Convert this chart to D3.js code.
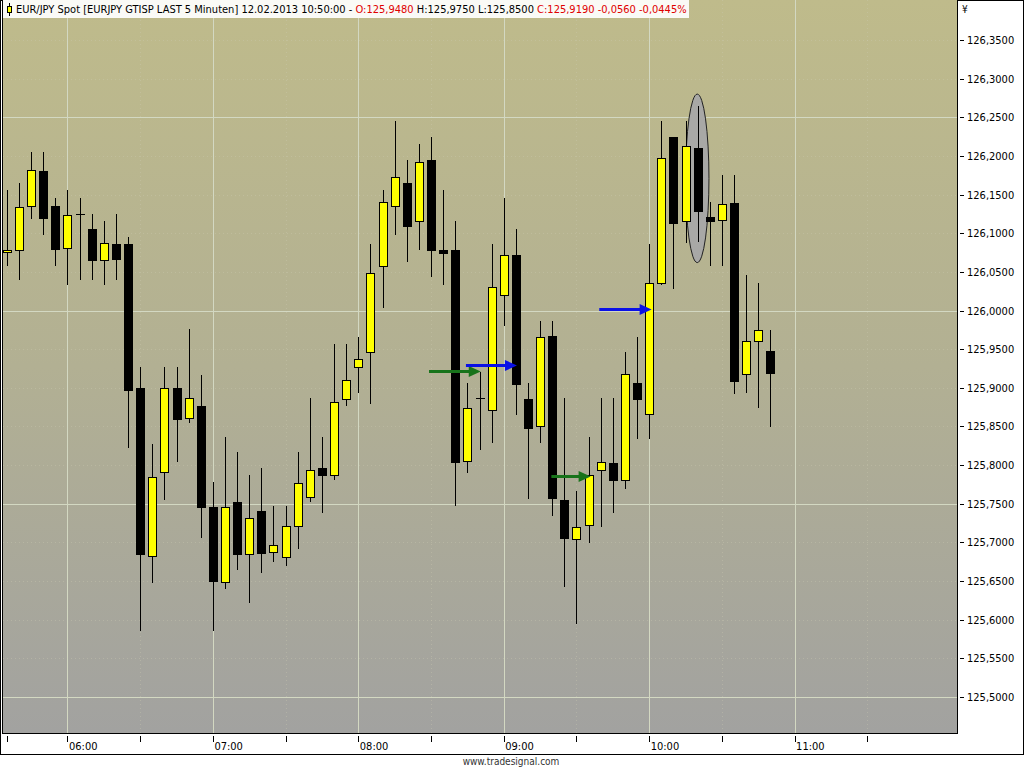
<!DOCTYPE html>
<html><head><meta charset="utf-8">
<script src="https://cdn.jsdelivr.net/npm/d3@7"></script>
<style>body{margin:0;background:#fff;} svg{display:block;}</style>
</head><body>
<svg id="c" width="1024" height="768"></svg>
<script>
// ---- data ----
const times = ["05:35","05:40","05:45","05:50","05:55","06:00","06:05","06:10","06:15","06:20","06:25","06:30",
"06:35","06:40","06:45","06:50","06:55","07:00","07:05","07:10","07:15","07:20","07:25","07:30",
"07:35","07:40","07:45","07:50","07:55","08:00","08:05","08:10","08:15","08:20","08:25","08:30",
"08:35","08:40","08:45","08:50","08:55","09:00","09:05","09:10","09:15","09:20","09:25","09:30",
"09:35","09:40","09:45","09:50","09:55","10:00","10:05","10:10","10:15","10:20","10:25","10:30",
"10:35","10:40","10:45","10:50"];
const opens = [126.0757,126.0779,126.1349,126.1801,126.1353,126.0805,126.1245,126.1055,126.0650,126.0861,126.0861,125.8998,
125.6828,125.7907,125.8998,125.8606,125.8765,125.7455,125.6484,125.7519,125.6847,125.7407,125.6872,125.6808,
125.7209,125.7584,125.7959,125.7869,125.8852,125.9266,125.9464,126.0580,126.1349,126.1646,126.1154,126.1948,
126.0779,126.0783,125.8050,125.8869,125.8710,126.0197,126.0715,125.8856,125.8503,125.9667,125.7549,125.7041,
125.7222,125.7933,125.8028,125.7804,125.9063,125.8662,126.0350,126.2245,126.1154,126.2099,126.1206,126.1168,
126.1387,125.9175,125.9606,125.9480];
const highs = [126.1560,126.1650,126.2047,126.2047,126.1452,126.1560,126.1452,126.1249,126.1158,126.1249,126.0955,125.9274,
125.8274,125.9274,125.9274,125.9761,125.9166,125.7778,125.8360,125.8174,125.7873,125.7967,125.7475,125.7475,
125.8174,125.8865,125.8360,125.9563,125.9567,125.9654,126.0861,126.1560,126.2452,126.1948,126.2155,126.2241,
126.1560,126.1158,125.9059,125.9205,126.0861,126.1452,126.1055,125.9059,125.9865,125.9865,125.8865,125.7666,
125.8368,125.8865,125.8865,125.9464,125.9654,126.0857,126.2452,126.2250,126.2452,126.2646,126.1408,126.1754,
126.1754,126.0460,126.0360,125.9750];
const lows = [126.0589,126.0404,126.1201,126.0990,126.0589,126.0343,126.0404,126.0404,126.0343,126.0404,125.8231,125.5867,
125.6484,125.7566,125.8057,125.8562,125.7066,125.5867,125.6415,125.6656,125.6226,125.6614,125.6764,125.6708,
125.6932,125.7540,125.7398,125.7817,125.8778,125.8950,125.8800,126.0050,126.0990,126.0645,126.0800,126.0451,
126.0347,125.7484,125.7915,125.8209,125.8296,125.9809,125.8658,125.7571,125.8299,125.7359,125.6437,125.5962,
125.7010,125.7213,125.7394,125.7708,125.8355,125.8351,126.0345,126.0296,126.0891,126.0904,126.0589,126.0589,
125.8929,125.8950,125.8756,125.8500];
const closes = [126.0777,126.1336,126.1814,126.1201,126.0800,126.1232,126.1245,126.0658,126.0870,126.0671,125.8976,125.6847,
125.7843,125.8998,125.8601,125.8865,125.7455,125.6505,125.7455,125.6847,125.7312,125.6859,125.6963,125.7209,
125.7765,125.7937,125.7876,125.8821,125.9101,125.9369,126.0482,126.1400,126.1724,126.1098,126.1926,126.0787,
126.0748,125.8045,125.8735,125.8869,126.0301,126.0715,125.9054,125.8477,125.9662,125.7569,125.7061,125.7204,
125.7869,125.8037,125.7812,125.9175,125.8860,126.0352,126.1970,126.1136,126.2125,126.1292,126.1154,126.1375,
125.9092,125.9602,125.9750,125.9190];

const yTickValues = [125.50,125.55,125.60,125.65,125.70,125.75,125.80,125.85,125.90,125.95,126.00,126.05,126.10,126.15,126.20,126.25,126.30,126.35];
const yMajorGrid = [125.50,125.75,126.00,126.25];
const xTickTimes = ["05:35","06:00","06:30","07:00","07:30","08:00","08:30","09:00","09:30","10:00","10:30","11:00","11:30"];
const xLabelTimes = ["06:00","07:00","08:00","09:00","10:00","11:00"];
const xMinorGrid = ["06:30","07:30","08:30","09:30","10:30","11:30"];
const arrows = [
  {color:"green", from:"08:29:10", to:"08:50:30", price:125.922},
  {color:"blue",  from:"08:44:24", to:"09:05:27", price:125.930},
  {color:"green", from:"09:19:39", to:"09:35:51", price:125.786},
  {color:"blue",  from:"09:39:24", to:"10:01:00", price:126.002}
];
const ellipse = {t1:"10:15:00", t2:"10:24:40", p1:126.062, p2:126.280};
const headerParts = [
  {t:"EUR/JPY Spot [EURJPY GTISP LAST 5 Minuten] 12.02.2013 10:50:00 - ", c:"#000"},
  {t:"O:125,9480", c:"#e00000"},
  {t:" H:125,9750 L:125,8500 ", c:"#000"},
  {t:"C:125,9190 -0,0560 -0,0445%", c:"#e00000"}
];
const currencyLabel = "¥";
const footer = "www.tradesignal.com";

// ---- setup ----
const FONT = "'DejaVu Sans Condensed','DejaVu Sans',sans-serif";
const pt = s => d3.timeParse(s.length > 5 ? "%H:%M:%S" : "%H:%M")(s);
const svg = d3.select("#c");
const P = {l:3, r:957, t:0, b:733};
const x = d3.scaleTime().domain([pt("05:33:24"), pt("12:07:00")]).range([P.l, P.r]);
const y = d3.scaleLinear().domain([126.35, 125.50]).range([40, 697]);
const loc = d3.formatLocale({decimal:",", thousands:".", grouping:[3], currency:["",""]});
const fmt = loc.format(".4f");

const candles = times.map((t,i)=>({t:pt(t), o:opens[i], h:highs[i], l:lows[i], c:closes[i]}));

// outer frame
svg.append("rect").attr("x",0.5).attr("y",0.5).attr("width",1023).attr("height",754)
  .attr("fill","#fff").attr("stroke","#000");

// gradient bg
const defs = svg.append("defs");
const g = defs.append("linearGradient").attr("id","bg").attr("x1",0).attr("y1",0).attr("x2",0).attr("y2",1);
g.append("stop").attr("offset","0%").attr("stop-color","#bfbb8b");
g.append("stop").attr("offset","50%").attr("stop-color","#b2b093");
g.append("stop").attr("offset","100%").attr("stop-color","#a2a2a0");
defs.append("clipPath").attr("id","clip").append("rect").attr("x",P.l).attr("y",P.t).attr("width",P.r-P.l).attr("height",P.b-P.t);

svg.append("rect").attr("x",P.l).attr("y",P.t).attr("width",P.r-P.l).attr("height",P.b-P.t).attr("fill","url(#bg)");

const plot = svg.append("g").attr("clip-path","url(#clip)");

// grid: minor horizontal dotted
plot.append("g").selectAll("line").data(yTickValues.filter(v=>!yMajorGrid.includes(v))).join("line")
  .attr("x1",P.l).attr("x2",P.r)
  .attr("y1",d=>Math.round(y(d))+0.5).attr("y2",d=>Math.round(y(d))+0.5)
  .attr("stroke","#cfcdb4").attr("stroke-dasharray","1,3").attr("opacity",0.35);
// minor vertical dotted
plot.append("g").selectAll("line").data(xMinorGrid).join("line")
  .attr("x1",d=>Math.round(x(pt(d)))+0.5).attr("x2",d=>Math.round(x(pt(d)))+0.5)
  .attr("y1",P.t).attr("y2",P.b)
  .attr("stroke","#cfcdb4").attr("stroke-dasharray","1,3").attr("opacity",0.35);
// major horizontal
plot.append("g").selectAll("line").data(yMajorGrid).join("line")
  .attr("x1",P.l).attr("x2",P.r)
  .attr("y1",d=>Math.round(y(d))+0.5).attr("y2",d=>Math.round(y(d))+0.5)
  .attr("stroke","#d3d8c2");
// major vertical
plot.append("g").selectAll("line").data(xLabelTimes).join("line")
  .attr("x1",d=>Math.round(x(pt(d)))+0.5).attr("x2",d=>Math.round(x(pt(d)))+0.5)
  .attr("y1",P.t).attr("y2",P.b)
  .attr("stroke","#d3d8c2");

// ellipse
plot.append("ellipse")
  .attr("cx",(x(pt(ellipse.t1))+x(pt(ellipse.t2)))/2)
  .attr("cy",(y(ellipse.p1)+y(ellipse.p2))/2)
  .attr("rx",Math.abs(x(pt(ellipse.t2))-x(pt(ellipse.t1)))/2)
  .attr("ry",Math.abs(y(ellipse.p1)-y(ellipse.p2))/2)
  .attr("fill","#a8a8a6").attr("stroke","#222").attr("stroke-width",1);

// candles
const cg = plot.append("g");
candles.forEach(d=>{
  const cx = Math.round(x(d.t)) + 0.5;
  cg.append("line").attr("x1",cx).attr("x2",cx)
    .attr("y1",Math.round(y(d.h))).attr("y2",Math.round(y(d.l))+1)
    .attr("stroke","#000");
  const yt = Math.round(y(Math.max(d.o,d.c))) + 0.5;
  const yb = Math.round(y(Math.min(d.o,d.c))) + 0.5;
  if (yb - yt < 1) {
    cg.append("line").attr("x1",cx-4.5).attr("x2",cx+4.5).attr("y1",yt).attr("y2",yt).attr("stroke","#000");
  } else {
    cg.append("rect").attr("x",cx-4).attr("y",yt).attr("width",8).attr("height",yb-yt)
      .attr("fill", d.c > d.o ? "#ffff00" : "#000").attr("stroke","#000");
  }
});

// arrows
const colMap = {green:"#17731a", blue:"#0a10e6"};
arrows.forEach(a=>{
  const x1 = x(pt(a.from)), x2 = x(pt(a.to)), yy = Math.round(y(a.price))+0.5;
  const hl = 12, hw = 5.5;
  plot.append("line").attr("x1",x1).attr("x2",x2-hl+1).attr("y1",yy).attr("y2",yy)
    .attr("stroke",colMap[a.color]).attr("stroke-width",3);
  plot.append("path").attr("d",`M${x2},${yy} L${x2-hl},${yy-hw} L${x2-hl},${yy+hw} Z`)
    .attr("fill",colMap[a.color]);
});

// plot border
svg.append("rect").attr("x",2.5).attr("y",-0.5).attr("width",P.r-2).attr("height",P.b+1)
  .attr("fill","none").attr("stroke","#000");

// header
const hdr = svg.append("g");
hdr.append("rect").attr("x",3).attr("y",0).attr("width",686).attr("height",18).attr("fill","#fafaf6");
hdr.append("line").attr("x1",9.5).attr("x2",9.5).attr("y1",3).attr("y2",16).attr("stroke","#000");
hdr.append("rect").attr("x",7.5).attr("y",6.5).attr("width",4).attr("height",6).attr("fill","#ffff00").attr("stroke","#000");
const ht = hdr.append("text").attr("x",16).attr("y",13).attr("font-family",FONT).attr("font-size","11px");
headerParts.forEach(p=>ht.append("tspan").attr("fill",p.c).text(p.t));

// y axis
const ya = svg.append("g");
ya.selectAll("line").data(yTickValues).join("line")
  .attr("x1",960).attr("x2",964)
  .attr("y1",d=>Math.round(y(d))+0.5).attr("y2",d=>Math.round(y(d))+0.5).attr("stroke","#000");
ya.selectAll("text").data(yTickValues).join("text")
  .attr("x",967).attr("y",d=>y(d)+4)
  .attr("font-family",FONT).attr("font-size","11px").attr("fill","#000")
  .text(d=>fmt(d));
svg.append("text").attr("x",962).attr("y",13).attr("font-family",FONT).attr("font-size","10px").text(currencyLabel);

// x axis
const xa = svg.append("g");
xa.selectAll("line").data(xTickTimes).join("line")
  .attr("x1",d=>Math.round(x(pt(d)))+0.5).attr("x2",d=>Math.round(x(pt(d)))+0.5)
  .attr("y1",736).attr("y2",742).attr("stroke","#000");
const tf = d3.timeFormat("%H:%M");
xa.selectAll("text").data(xLabelTimes).join("text")
  .attr("x",d=>x(pt(d))+1.5).attr("y",750)
  .attr("font-family",FONT).attr("font-size","11px").attr("fill","#000")
  .text(d=>tf(pt(d)));

// footer
svg.append("text").attr("x",511).attr("y",765).attr("text-anchor","middle")
  .attr("font-family",FONT).attr("font-size","10px").attr("fill","#333").text(footer);
</script>
</body></html>
